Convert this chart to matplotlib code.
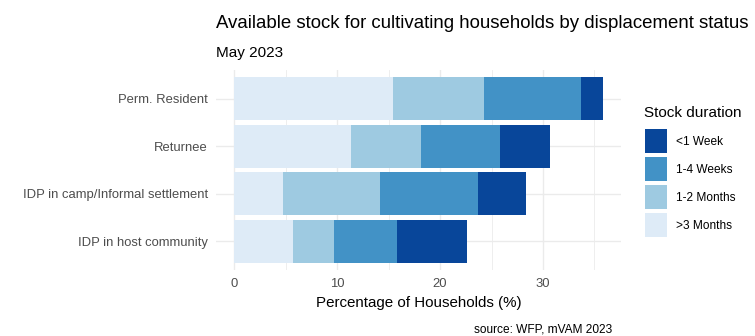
import matplotlib
matplotlib.use("Agg")
import matplotlib.pyplot as plt
from matplotlib.patches import Patch
import numpy as np

plt.rcParams["font.family"] = ["Liberation Sans", "DejaVu Sans"]

# data (top to bottom)
groups = ["Perm. Resident", "Returnee", "IDP in camp/Informal settlement", "IDP in host community"]
over_3_months = [15.4, 11.3, 4.7, 5.7]
one_two_months = [8.9, 6.8, 9.5, 4.0]
one_four_weeks = [9.4, 7.7, 9.5, 6.1]
under_1_week = [2.1, 4.9, 4.7, 6.8]

duration_labels = ["<1 Week", "1-4 Weeks", "1-2 Months", ">3 Months"]
duration_colors = ["#08469a", "#4292c6", "#9ecae1", "#deebf7"]

series = [over_3_months, one_two_months, one_four_weeks, under_1_week]
series_colors = duration_colors[::-1]

fig = plt.figure(figsize=(7.55, 3.36), dpi=100)
ax = fig.add_axes([216 / 755, 66 / 336, 405 / 755, 200 / 336])

y = np.arange(len(groups))[::-1]
left = np.zeros(len(groups))
for vals, col in zip(series, series_colors):
    ax.barh(y, vals, left=left, height=0.9, color=col, zorder=2)
    left += np.array(vals)

total_max = left.max()
ax.set_xlim(-0.05 * total_max, total_max * 1.05)
ax.set_ylim(-0.6, len(groups) - 0.4)

ax.set_xticks([0, 10, 20, 30])
ax.set_xticks([5, 15, 25, 35], minor=True)
ax.set_yticks(y)
ax.set_yticklabels(groups)

ax.grid(True, which="major", color="#ebebeb", linewidth=1.0, zorder=0)
ax.grid(True, which="minor", axis="x", color="#ebebeb", linewidth=0.6, zorder=0)
for s in ax.spines.values():
    s.set_visible(False)
ax.tick_params(axis="both", which="both", length=0, labelcolor="#4d4d4d", labelsize=9.4)
ax.tick_params(axis="x", pad=6)
ax.tick_params(axis="y", pad=6)

ax.set_xlabel("Percentage of Households (%)", fontsize=10.9, color="black", labelpad=4)

fig.text(216 / 755, 1 - 24 / 336, "Available stock for cultivating households by displacement status",
         fontsize=13.4, va="center", ha="left")
fig.text(216 / 755, 1 - 53 / 336, "May 2023", fontsize=11, va="center", ha="left")
fig.text(612 / 755, 1 - 329 / 336, "source: WFP, mVAM 2023", fontsize=8.6, va="center", ha="right")

# legend (title drawn separately to control the gap)
fig.text(644 / 755, 1 - 113 / 336, "Stock duration", fontsize=11, va="center", ha="left")
handles = [Patch(facecolor=c, edgecolor="none") for c in duration_colors]
fig.legend(handles, duration_labels, loc="upper left",
           bbox_to_anchor=(645 / 755, 1 - 129 / 336), frameon=False,
           fontsize=8.6, handlelength=1.85, handleheight=2.72,
           handletextpad=0.75, labelspacing=0.33, borderaxespad=0, borderpad=0)

fig.savefig("out.png", dpi=100)
